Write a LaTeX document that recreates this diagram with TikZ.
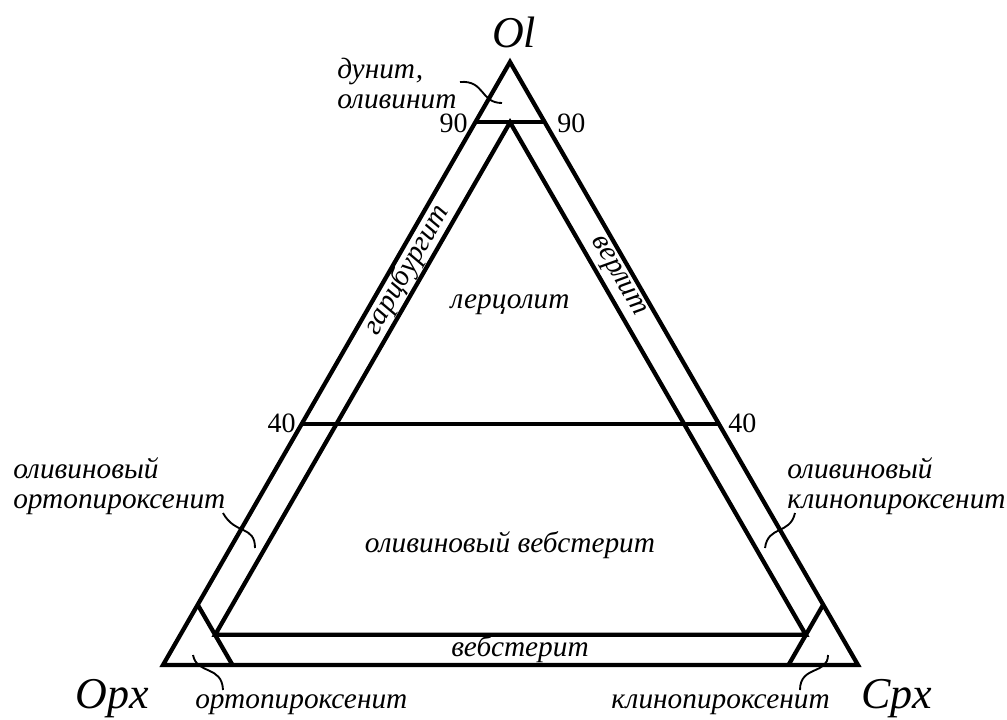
\documentclass[tikz,border=0pt]{standalone}
\usepackage{fontspec}
\setmainfont{Liberation Serif}
\begin{document}
\begin{tikzpicture}[x=0.75pt,y=-0.75pt, line join=miter,
  edge/.style={line width=3.2pt},
  lbl/.style={font=\fontsize{22}{26}\selectfont\itshape, inner sep=0pt},
  big/.style={font=\fontsize{33}{37}\selectfont\itshape, inner sep=0pt},
  num/.style={font=\fontsize{21}{25}\selectfont, inner sep=0pt},
  leader/.style={line width=1.4pt}]
\useasboundingbox (0,0) rectangle (1007,719);
\coordinate (T) at (510,62);
\coordinate (L) at (163,665);
\coordinate (R) at (858,665);
% 90 % Ol line
\coordinate (o90l) at (barycentric cs:T=0.9,L=0.1);
\coordinate (o90r) at (barycentric cs:T=0.9,R=0.1);
% 40 % Ol line
\coordinate (o40l) at (barycentric cs:T=0.4,L=0.6);
\coordinate (o40r) at (barycentric cs:T=0.4,R=0.6);
% inner triangle (5 %)
\coordinate (ia) at (barycentric cs:T=0.9,L=0.05,R=0.05);
\coordinate (ib) at (barycentric cs:T=0.05,L=0.9,R=0.05);
\coordinate (ic) at (barycentric cs:T=0.05,L=0.05,R=0.9);
% corner lines 90 %
\coordinate (p90t) at (barycentric cs:T=0.1,L=0.9);
\coordinate (p90b) at (barycentric cs:L=0.9,R=0.1);
\coordinate (c90t) at (barycentric cs:T=0.1,R=0.9);
\coordinate (c90b) at (barycentric cs:L=0.1,R=0.9);

\draw[edge] (L) -- (R) -- (T) -- cycle;
\draw[edge] (o90l) -- (o90r);
\draw[edge] (o40l) -- (o40r);
\draw[edge] (ia) -- (ib) -- (ic) -- cycle;
\draw[edge] (p90t) -- (p90b);
\draw[edge] (c90t) -- (c90b);

% vertex labels
\node[big, anchor=base] (nOl) at (514,47) {Ol};
\node[big, anchor=base] (nOpx) at (112,708) {Opx};
\node[big, anchor=base] (nCpx) at (897,708) {Cpx};

% numbers
\node[num, anchor=base east] (n90l) at (468,132) {90};
\node[num, anchor=base west] (n90r) at (557,132) {90};
\node[num, anchor=base east] (n40l) at (296,432) {40};
\node[num, anchor=base west] (n40r) at (728,432) {40};

% field labels
\node[lbl, anchor=base] (lherz) at (510,308) {лерцолит};
\node[lbl, anchor=base] (olweb) at (510,552) {оливиновый вебстерит};
\node[lbl, anchor=base] (web) at (520,656) {вебстерит};
\node[lbl, rotate=60] (harz) at (407,270) {гарцбургит};
\node[lbl, rotate=-60] (wehr) at (617,277) {верлит};

% outer labels
\node[lbl, anchor=base west] (dun1) at (337,78) {дунит,};
\node[lbl, anchor=base west] (dun2) at (337,108) {оливинит};
\node[lbl, anchor=base west] (oop1) at (13,478) {оливиновый};
\node[lbl, anchor=base west] (oop2) at (13,508) {ортопироксенит};
\node[lbl, anchor=base west] (ocp1) at (787,478) {оливиновый};
\node[lbl, anchor=base west] (ocp2) at (787,508) {клинопироксенит};
\node[lbl, anchor=base west] (opx) at (195,708) {ортопироксенит};
\node[lbl, anchor=base east] (cpx) at (830,708) {клинопироксенит};

% leaders
\coordinate (d1) at (460,82);  \coordinate (d2) at (502,103);
\coordinate (a1) at (223,513); \coordinate (a2) at (255,548);
\coordinate (b1) at (795,513); \coordinate (b2) at (765,548);
\coordinate (e1) at (193,655); \coordinate (e2) at (223,690);
\coordinate (f1) at (828,655); \coordinate (f2) at (800,690);
\draw[leader] (d1) .. controls (485,80) and (480,103) .. (d2);
\draw[leader] (a1) .. controls (235,535) and (255,525) .. (a2);
\draw[leader] (b1) .. controls (790,535) and (768,525) .. (b2);
\draw[leader] (e1) .. controls (197,675) and (222,665) .. (e2);
\draw[leader] (f1) .. controls (828,675) and (800,665) .. (f2);
\end{tikzpicture}
\end{document}
